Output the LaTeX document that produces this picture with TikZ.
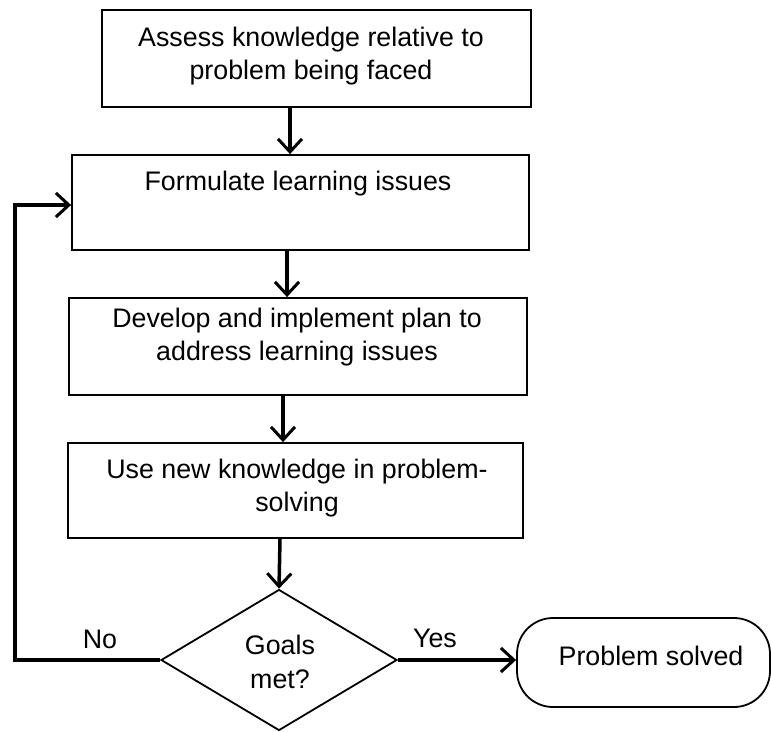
\documentclass[tikz,border=0pt]{standalone}
\usepackage{fontspec}
\setmainfont{Liberation Sans}
\usetikzlibrary{arrows.meta,shapes.geometric}
\begin{document}
\begin{tikzpicture}[x=1pt,y=-1pt,
  every node/.style={font=\fontsize{26.8}{33.5}\selectfont},
  stepbox/.style={draw, line width=1.8pt, rectangle, inner sep=0pt},
  decision/.style={draw, line width=1.8pt, diamond, inner sep=0pt},
  terminal/.style={draw, line width=1.8pt, rectangle, rounded corners=36pt, inner sep=0pt},
  lbl/.style={align=center, inner sep=0pt},
  arr/.style={line width=3.5pt, -{Straight Barb[length=13pt,width=24pt,line width=3pt]}}
]
\useasboundingbox (0,0) rectangle (771,731);

% process steps
\node[stepbox, minimum width=429pt, minimum height=97pt] (b1) at (316.5,58.5) {};
\node[lbl] (t1) at (311,56) {Assess knowledge relative to\\problem being faced};

\node[stepbox, minimum width=457pt, minimum height=95pt] (b2) at (300.5,202.5) {};
\node[lbl] (t2) at (298,184) {Formulate learning issues};

\node[stepbox, minimum width=458pt, minimum height=97pt] (b3) at (298,346.5) {};
\node[lbl] (t3) at (297,337) {Develop and implement plan to\\address learning issues};

\node[stepbox, minimum width=455pt, minimum height=95pt] (b4) at (295.5,490.5) {};
\node[lbl] (t4) at (297,488) {Use new knowledge in problem-\\solving};

% decision and end state
\node[decision, minimum width=236pt, minimum height=141pt] (d) at (279,660) {};
\node[lbl] (td) at (280,662) {Goals\\met?};

\node[terminal, minimum width=253pt, minimum height=89pt] (ps) at (643.5,662.5) {};
\node[lbl] (tps) at (651,656) {Problem solved};

% flow
\draw[arr] (b1.south -| 290,0) -- (b2.north -| 290,0);
\draw[arr] (b2.south -| 287,0) -- (b3.north -| 287,0);
\draw[arr] (b3.south -| 283,0) -- (b4.north -| 283,0);
\draw[arr] (b4.south -| 280,0) -- (d.north);
\draw[arr] (d.west) -| (15,205) -- (b2.west |- 0,205);
\draw[arr] (d.east) -- (d.east -| ps.west);

\node[lbl] (no) at (100,639) {No};
\node[lbl] (yes) at (435,638) {Yes};
\end{tikzpicture}
\end{document}
